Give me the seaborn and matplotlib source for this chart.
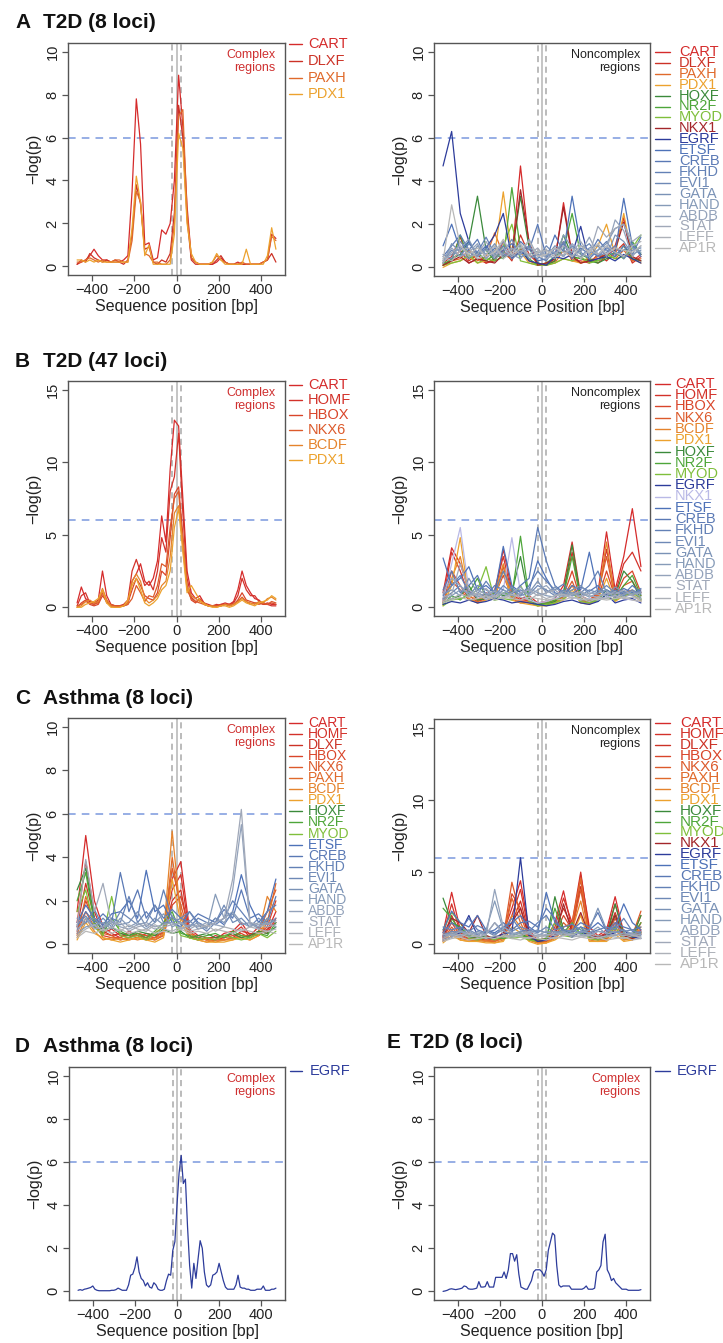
import numpy as np
import pandas as pd
import matplotlib
matplotlib.use("Agg")
import matplotlib.pyplot as plt
from matplotlib.lines import Line2D
import seaborn as sns

W, H = 723, 1343

# ---------------- data (-log(p) values) ----------------
# complex panels on a 20 bp grid, noncomplex panels on a ~41 bp grid,
# D / E on a 10 bp grid; x runs from -470 to 470 in every case

A_cx = {
    'CART': [0.1,0.2,0.3,0.5,0.8,0.5,0.3,0.3,0.2,0.3,0.2,0.3,0.5,3.5,7.8,5.7,1.0,1.1,0.3,0.4,1.7,1.5,2.0,4.0,8.9,6.5,2.8,0.4,0.2,0.1,0.1,0.1,0.1,0.2,0.4,0.2,0.1,0.1,0.2,0.1,0.1,0.1,0.1,0.1,0.2,0.3,1.5,1.3],
    'DLXF': [0.1,0.3,0.2,0.6,0.4,0.3,0.2,0.3,0.2,0.2,0.2,0.1,0.3,1.5,3.8,2.9,0.8,0.9,0.2,0.1,0.3,0.2,0.6,2.5,7.5,6.0,2.2,0.3,0.1,0.1,0.1,0.1,0.1,0.3,0.5,0.2,0.1,0.1,0.1,0.1,0.1,0.1,0.1,0.1,0.2,0.3,0.6,0.2],
    'PAXH': [0.2,0.2,0.3,0.4,0.3,0.2,0.3,0.2,0.2,0.3,0.3,0.2,0.2,1.2,3.5,3.0,0.6,0.5,0.2,0.2,0.1,0.1,0.3,2.0,7.0,7.3,2.5,0.4,0.2,0.1,0.1,0.1,0.2,0.5,0.3,0.2,0.1,0.1,0.1,0.2,0.1,0.1,0.1,0.1,0.2,0.3,1.4,1.2],
    'PDX1': [0.3,0.3,0.2,0.3,0.2,0.3,0.2,0.2,0.2,0.2,0.2,0.2,0.2,1.8,4.2,3.0,0.5,1.0,0.1,0.1,0.1,0.1,0.1,1.5,6.2,5.5,2.0,0.6,0.2,0.1,0.1,0.1,0.2,0.6,0.3,0.1,0.1,0.1,0.1,0.1,0.8,0.1,0.1,0.1,0.1,0.5,1.8,0.8],
}

A_nc = {
    'CART': [0.1,0.3,0.8,0.2,0.4,0.2,0.3,1.2,0.5,4.7,1.0,0.1,0.1,0.3,3.0,0.6,0.2,0.4,0.2,0.5,1.0,2.3,0.3,0.6],
    'DLXF': [0.2,0.5,1.4,0.3,0.6,0.2,0.4,0.8,0.3,1.5,0.6,0.2,0.1,0.4,1.2,0.3,0.3,0.2,0.6,0.3,0.7,1.1,0.2,0.5],
    'PAXH': [0.1,0.3,0.4,0.8,0.3,0.5,1.6,0.6,0.4,0.9,0.3,0.1,0.2,0.2,0.8,0.4,0.2,0.3,0.5,0.6,0.4,0.8,0.3,0.4],
    'PDX1': [0.0,0.2,0.3,0.5,0.2,0.3,0.6,3.5,0.5,0.7,0.2,0.1,0.1,0.2,0.4,0.3,0.2,0.5,1.0,2.0,0.6,2.5,0.4,0.2],
    'HOXF': [0.1,0.4,0.6,1.2,3.3,0.8,0.3,0.5,0.6,3.3,0.9,0.2,0.1,0.3,1.5,0.5,0.4,0.3,0.2,0.4,0.5,1.0,0.4,0.3],
    'NR2F': [0.2,0.3,1.5,0.4,0.7,0.3,0.6,0.4,3.7,0.8,0.4,0.1,0.2,0.5,0.8,2.5,0.6,0.4,0.3,0.5,0.7,0.4,1.2,0.6],
    'MYOD': [0.1,0.2,0.3,0.6,0.2,0.4,0.3,1.0,2.0,0.3,0.2,0.1,0.1,0.2,0.4,0.3,0.5,0.2,0.3,0.6,0.4,0.5,0.9,1.5],
    'NKX1': [0.1,0.3,0.5,0.2,0.4,0.3,0.2,0.6,0.5,3.6,1.2,0.1,0.2,0.4,2.8,0.5,0.2,0.3,0.4,0.6,0.8,2.1,0.5,0.3],
    'EGRF': [4.7,6.3,2.5,1.2,0.5,0.9,1.5,2.5,0.4,0.8,0.3,0.2,0.1,0.5,0.4,0.6,1.9,0.3,0.4,0.5,0.3,0.6,0.4,0.2],
    'ETSF': [1.0,2.0,0.8,1.2,0.6,1.0,0.5,0.8,1.1,0.6,0.9,0.3,0.4,1.5,0.7,3.3,1.0,0.8,0.5,0.9,0.7,3.2,1.0,0.6],
    'CREB': [0.5,1.0,1.5,0.8,1.3,0.4,0.9,0.6,0.5,1.2,0.8,2.0,0.5,0.7,1.1,0.4,0.9,0.6,1.3,0.8,0.5,1.0,0.6,1.4],
    'FKHD': [0.3,0.8,0.5,1.1,0.7,1.4,0.6,1.0,0.4,0.7,1.0,0.5,0.3,0.9,0.5,1.0,0.7,0.4,0.8,1.2,0.6,0.8,1.1,0.5],
    'EVI1': [0.6,0.4,1.2,0.7,0.5,0.9,0.4,0.7,1.3,0.5,0.6,0.4,1.0,0.6,1.2,0.5,0.8,1.1,0.5,0.7,1.0,0.4,0.8,0.9],
    'GATA': [0.2,1.1,0.7,0.4,1.0,0.6,1.1,0.5,0.8,1.0,0.4,0.6,0.5,1.0,0.8,0.6,0.5,0.9,1.0,0.5,1.5,1.2,0.6,0.8],
    'HAND': [0.4,0.6,0.9,1.3,0.5,0.8,0.6,1.2,0.6,0.4,0.9,0.7,0.6,0.4,1.5,0.9,0.6,0.5,0.8,1.1,1.8,2.0,0.9,0.7],
    'ABDB': [0.3,0.9,0.5,0.7,1.1,0.4,0.8,0.6,0.9,0.6,1.3,0.5,0.8,0.7,0.5,1.1,0.7,1.4,0.6,0.8,2.2,1.7,0.5,1.0],
    'STAT': [0.2,0.7,1.0,0.5,0.6,1.2,0.5,0.9,0.5,0.8,0.6,0.9,0.4,0.6,1.0,0.7,1.2,0.6,1.9,1.4,1.8,2.0,1.2,1.5],
    'LEFF': [0.5,0.3,0.8,0.9,0.4,0.6,1.0,0.4,0.7,1.1,0.5,0.7,0.8,0.5,0.6,0.9,0.4,0.8,0.6,1.0,0.7,0.5,1.0,1.2],
    'AP1R': [0.3,2.9,1.0,0.6,0.9,0.5,0.7,1.3,0.6,0.9,1.2,0.5,0.6,0.9,0.7,0.5,1.0,0.7,1.1,0.6,0.9,0.8,0.7,1.0],
}

B_cx = {
    'CART': [0.3,1.4,0.6,0.4,0.3,0.5,2.5,0.8,0.2,0.1,0.1,0.1,0.2,1.8,2.3,3.0,1.8,1.5,2.0,3.2,6.3,4.5,9.5,12.9,12.5,7.5,2.5,1.0,0.6,0.8,0.3,0.2,0.1,0.1,0.2,0.3,0.2,0.4,1.2,2.5,1.5,1.0,0.6,0.5,0.2,0.3,0.2,0.2],
    'HOMF': [0.1,0.8,1.0,0.3,0.2,0.4,1.2,0.5,0.1,0.1,0.1,0.2,0.5,2.5,3.3,2.4,1.5,1.8,1.2,2.5,4.8,3.8,8.0,9.0,12.0,6.5,2.0,0.7,0.4,0.5,0.2,0.1,0.1,0.2,0.1,0.2,0.2,0.3,0.8,2.0,1.2,0.8,0.8,0.4,0.3,0.2,0.1,0.1],
    'HBOX': [0.0,0.3,0.5,0.2,0.1,0.2,0.8,0.4,0.1,0.0,0.1,0.1,0.3,1.2,2.0,1.5,0.8,0.6,0.5,1.0,2.5,2.2,4.8,7.8,8.3,5.0,1.5,0.5,0.3,0.6,0.3,0.1,0.1,0.1,0.2,0.2,0.1,0.2,0.5,1.0,0.5,0.4,0.3,0.3,0.2,0.2,0.3,0.2],
    'NKX6': [0.1,0.2,0.4,0.3,0.2,0.3,1.0,0.3,0.2,0.1,0.1,0.1,0.2,0.6,1.5,1.0,0.4,0.8,0.7,1.5,3.0,2.8,5.5,7.5,8.0,4.2,1.2,0.6,0.4,0.3,0.2,0.1,0.1,0.1,0.1,0.2,0.2,0.2,0.4,0.7,0.4,0.2,0.3,0.2,0.3,0.2,0.4,0.3],
    'BCDF': [0.0,0.1,0.4,0.5,0.3,0.4,1.3,0.5,0.1,0.0,0.0,0.1,0.3,1.8,2.3,1.8,0.6,0.3,0.5,0.8,1.5,1.8,3.5,6.5,7.0,4.5,1.4,0.8,0.6,0.4,0.3,0.1,0.1,0.0,0.1,0.2,0.1,0.2,0.4,0.6,0.4,0.3,0.2,0.4,0.3,0.6,0.7,0.5],
    'PDX1': [0.0,0.0,0.2,0.3,0.4,0.6,1.2,0.3,0.0,0.0,0.0,0.1,0.5,1.5,2.0,1.2,0.3,0.1,0.3,0.6,1.2,1.5,2.5,5.5,6.8,3.8,1.0,1.5,1.0,0.5,0.2,0.1,0.0,0.0,0.1,0.1,0.0,0.1,0.3,0.5,0.3,0.2,0.1,0.3,0.4,0.5,0.8,0.6],
}

B_nc = {
    'CART': [1.0,4.1,3.0,1.2,0.5,1.0,0.8,4.0,1.2,0.6,0.8,0.3,0.4,0.6,1.5,4.5,0.8,0.5,1.0,5.2,1.2,3.5,6.8,2.8],
    'HOMF': [0.5,3.8,2.5,0.8,0.4,0.6,1.2,3.5,0.9,0.5,0.6,0.2,0.3,0.4,1.0,3.8,0.6,0.4,0.8,4.0,0.9,3.0,3.8,2.5],
    'HBOX': [0.3,2.5,1.5,0.6,0.3,0.5,0.8,2.2,0.7,0.4,0.5,0.1,0.2,0.3,0.8,2.5,0.5,0.3,0.6,2.5,0.7,2.0,2.5,1.0],
    'NKX6': [0.4,1.8,1.2,0.5,0.4,0.7,0.6,2.8,0.6,0.3,0.4,0.2,0.2,0.5,0.7,1.8,0.4,0.5,0.9,3.5,0.6,1.5,1.8,0.8],
    'BCDF': [0.2,2.0,3.5,0.8,0.5,0.8,1.0,3.0,0.8,0.4,0.3,0.1,0.2,0.4,0.6,1.5,0.4,0.3,0.7,4.5,0.5,1.0,1.2,0.5],
    'PDX1': [0.1,1.5,4.8,0.6,0.3,0.5,0.7,2.5,0.5,0.3,0.2,0.1,0.1,0.3,0.5,1.2,0.3,0.2,0.5,2.0,0.4,0.8,0.9,0.4],
    'HOXF': [0.3,0.6,0.8,1.5,0.5,0.6,1.0,0.8,1.0,3.5,0.5,0.2,0.2,0.4,1.0,4.3,0.6,0.4,0.5,1.2,0.8,2.5,1.8,0.5],
    'NR2F': [0.2,0.8,0.5,1.0,2.0,0.7,0.5,1.0,0.8,4.9,0.6,0.2,0.3,0.5,0.8,3.5,0.5,0.6,0.4,0.9,0.7,1.5,2.2,0.8],
    'MYOD': [0.1,0.5,0.6,0.8,1.2,2.8,0.5,0.6,0.5,1.5,0.4,0.1,0.2,0.3,0.6,1.0,0.4,0.3,0.5,0.7,0.5,0.8,1.0,0.6],
    'EGRF': [0.2,0.4,0.3,0.5,0.3,0.4,0.6,0.5,0.3,0.4,0.3,0.2,0.1,0.2,0.4,0.5,0.3,0.2,0.4,0.9,0.3,0.5,0.6,0.3],
    'NKX1': [0.5,3.0,5.5,1.2,0.8,0.6,0.9,1.2,4.8,1.0,0.5,0.3,0.4,0.6,0.8,0.7,0.5,0.6,0.5,0.7,0.8,0.6,0.5,0.4],
    'ETSF': [3.4,1.5,2.0,2.8,1.2,1.5,1.0,4.2,1.5,1.0,1.2,3.2,2.0,1.0,0.8,1.5,1.2,3.8,1.0,1.2,0.9,1.3,1.0,1.2],
    'CREB': [1.2,2.5,1.0,1.5,2.2,0.8,1.5,1.2,0.9,1.5,2.0,5.5,3.2,1.5,1.0,0.9,1.4,1.1,1.5,0.8,1.2,0.9,1.5,1.0],
    'FKHD': [0.8,1.5,2.2,1.0,0.9,1.8,1.0,2.5,1.2,0.8,1.5,2.5,1.8,1.2,1.6,0.8,1.0,1.5,2.5,1.0,0.7,1.1,0.8,1.3],
    'EVI1': [0.6,1.0,1.5,0.8,1.5,1.2,0.8,1.5,1.0,1.2,0.9,1.5,1.2,0.8,1.2,1.0,0.8,1.2,1.0,1.5,1.0,0.8,1.2,0.9],
    'GATA': [0.9,1.2,0.8,2.0,1.0,0.7,1.2,0.9,1.4,0.8,1.0,1.8,1.0,1.4,0.9,1.2,1.5,0.9,1.2,0.8,1.4,1.0,0.9,1.1],
    'HAND': [0.5,0.8,1.2,1.0,0.7,1.0,0.6,1.2,0.8,0.9,1.3,1.0,0.8,0.7,1.1,0.8,1.0,0.7,1.0,1.2,0.6,0.9,1.1,0.7],
    'ABDB': [1.0,2.0,1.5,0.8,1.2,0.9,1.1,0.7,1.0,1.4,0.8,1.2,1.5,0.9,0.8,1.0,0.7,1.0,0.9,0.8,1.1,0.7,0.9,1.0],
    'STAT': [0.7,0.9,3.0,1.2,0.8,1.3,0.7,1.0,0.6,1.0,1.2,0.8,1.0,1.2,0.7,0.9,1.1,0.8,0.7,1.0,0.9,1.2,0.8,0.6],
    'LEFF': [0.4,0.6,0.9,0.7,1.0,0.5,0.8,0.6,0.9,0.7,0.5,0.9,0.6,0.8,0.9,0.6,0.8,0.5,0.7,0.6,0.8,0.6,0.7,0.5],
    'AP1R': [0.3,0.5,0.7,0.5,0.6,0.8,0.5,0.7,0.6,0.5,0.7,0.6,0.5,0.6,0.5,0.7,0.6,0.4,0.6,0.5,0.6,0.7,0.5,0.4],
}

C_cx = {
    'CART': [1.5,5.0,2.0,0.8,0.5,0.3,0.6,0.4,0.3,0.5,0.8,3.0,3.8,0.7,0.4,0.3,0.2,0.5,0.6,1.0,0.4,0.8,0.6,1.5],
    'HOMF': [1.0,3.8,1.5,0.5,0.7,0.4,0.3,0.5,0.4,0.3,0.6,2.5,3.2,0.5,0.3,0.2,0.4,0.3,0.5,0.8,0.3,0.6,0.5,1.2],
    'DLXF': [0.8,2.8,1.2,0.6,0.4,0.5,0.4,0.3,0.5,0.4,0.5,2.0,2.5,0.4,0.2,0.3,0.3,0.4,0.3,0.6,0.5,0.4,0.7,1.0],
    'HBOX': [0.6,2.0,1.0,0.4,0.3,0.3,0.5,0.4,0.3,0.2,0.4,1.8,2.2,0.6,0.3,0.2,0.2,0.3,0.4,0.5,0.3,0.5,0.8,2.0],
    'NKX6': [0.5,1.5,0.8,0.5,0.4,0.2,0.3,0.5,0.4,0.3,0.6,3.5,1.8,0.4,0.2,0.3,0.2,0.2,0.3,0.4,0.4,0.6,1.5,2.5],
    'PAXH': [0.4,2.2,1.0,0.3,0.2,0.3,0.2,0.3,0.2,0.3,0.4,4.0,1.5,0.3,0.2,0.1,0.2,0.2,0.3,0.3,0.2,0.4,1.0,2.8],
    'BCDF': [0.3,1.2,0.6,0.2,0.3,0.2,0.3,0.2,0.3,0.2,0.5,5.2,1.2,0.5,0.3,0.2,0.1,0.2,0.2,0.4,0.3,0.5,2.2,1.5],
    'PDX1': [0.2,1.0,0.5,0.3,0.2,0.1,0.2,0.3,0.2,0.1,0.3,3.0,1.0,0.3,0.2,0.1,0.1,0.1,0.2,0.3,0.2,0.4,1.2,1.0],
    'HOXF': [2.5,3.5,1.2,0.6,0.8,0.5,0.4,0.6,0.5,0.4,0.7,0.5,0.6,0.3,0.4,0.5,0.3,0.4,0.5,0.3,0.4,0.6,0.5,0.8],
    'NR2F': [2.0,3.3,1.0,0.5,1.2,0.6,0.4,0.5,0.3,0.6,1.0,1.5,0.5,0.4,0.3,0.4,0.5,0.3,0.6,0.4,0.3,0.5,0.4,1.0],
    'MYOD': [1.5,2.5,0.8,0.4,2.2,0.4,0.3,0.4,0.2,0.5,0.8,1.2,0.4,0.3,0.2,0.3,0.2,0.4,0.3,0.2,0.3,0.5,0.3,0.6],
    'ETSF': [1.0,1.8,1.2,0.9,1.4,1.5,2.0,1.2,3.4,1.5,1.8,1.0,0.8,1.5,1.0,0.8,1.2,0.9,1.5,3.2,1.8,1.0,1.5,3.0],
    'CREB': [0.8,1.5,1.0,1.4,1.0,3.3,1.5,2.5,1.2,1.8,1.2,1.6,1.2,1.0,1.4,1.2,1.0,1.6,1.2,2.5,1.2,1.4,1.0,2.2],
    'FKHD': [1.2,1.0,1.6,0.8,1.2,1.0,2.2,1.0,1.5,1.0,2.5,1.2,1.0,0.8,1.2,1.0,0.9,1.2,2.0,1.5,1.0,0.8,1.5,1.8],
    'EVI1': [0.9,1.3,0.8,1.2,0.8,1.5,1.2,0.9,1.0,1.8,1.0,1.0,1.2,1.5,0.9,0.6,1.0,1.8,1.0,1.2,0.8,1.2,0.9,1.2],
    'GATA': [0.7,1.0,1.2,0.7,1.0,0.9,1.0,1.5,0.8,1.2,0.9,1.3,0.9,1.1,0.7,0.8,1.2,1.0,1.4,0.9,1.0,0.7,1.2,1.0],
    'HAND': [0.5,0.8,0.9,1.0,0.7,1.2,0.8,1.0,0.7,1.0,1.4,0.8,1.0,0.8,1.0,0.7,2.3,1.2,1.5,1.0,0.8,1.0,0.9,1.1],
    'ABDB': [0.6,1.2,0.7,0.8,1.1,0.8,0.7,0.9,1.0,0.8,0.9,1.0,0.7,0.9,0.8,1.0,0.9,0.8,2.5,5.5,0.9,0.8,1.0,0.8],
    'STAT': [0.8,3.9,1.5,2.8,0.9,1.0,0.6,0.8,0.9,0.7,0.8,0.9,1.0,0.7,0.9,0.8,1.0,1.2,3.0,6.2,1.0,0.9,0.8,0.9],
    'LEFF': [0.4,0.7,0.9,0.6,0.8,0.6,0.9,0.7,0.6,0.9,0.7,0.6,0.8,0.6,0.7,0.9,0.6,0.8,0.7,0.6,0.8,0.7,0.6,0.7],
    'AP1R': [0.3,0.6,0.5,0.7,0.5,0.7,0.5,0.6,0.7,0.5,0.6,0.5,0.7,0.5,0.6,0.5,0.7,0.6,0.5,0.7,0.6,0.5,0.6,0.5],
}

C_nc = {
    'CART': [0.8,3.6,1.0,0.6,0.4,0.5,0.3,0.8,2.5,4.4,1.0,0.3,0.4,1.5,3.7,1.0,4.8,1.2,0.6,1.0,3.3,0.8,0.5,1.0],
    'HOMF': [0.6,2.8,0.8,0.5,0.6,0.4,0.3,0.6,2.0,3.8,0.8,0.2,0.3,1.2,3.2,1.5,5.0,0.9,0.5,0.8,2.8,0.7,0.4,0.9],
    'DLXF': [0.5,2.0,0.7,0.4,0.3,0.5,0.4,0.5,1.5,3.0,0.7,0.2,0.3,0.9,2.5,1.2,4.0,0.7,0.4,0.6,2.2,0.6,0.3,0.8],
    'HBOX': [0.4,1.5,0.6,0.3,0.4,0.3,0.3,0.4,3.5,2.5,0.5,0.1,0.2,0.7,2.0,1.0,4.5,0.6,0.3,0.5,1.8,0.5,0.3,1.5],
    'NKX6': [0.3,1.2,0.5,0.4,0.3,0.2,0.2,0.5,4.3,2.0,0.4,0.2,0.2,0.6,1.5,0.9,3.8,0.5,0.4,0.4,1.5,0.4,0.6,2.3],
    'PAXH': [0.2,1.0,0.4,0.3,0.2,0.3,0.2,0.4,3.2,1.5,0.3,0.1,0.1,0.5,1.2,1.5,4.6,0.4,0.3,0.3,1.2,0.3,0.5,2.0],
    'BCDF': [0.2,0.8,0.3,0.2,0.3,0.2,0.1,0.3,2.0,1.2,0.3,0.1,0.1,0.4,1.0,1.0,3.0,0.3,0.2,0.3,1.0,0.3,0.4,1.2],
    'PDX1': [0.1,0.6,0.3,0.2,0.2,0.1,0.1,0.2,1.2,0.8,0.2,0.0,0.1,0.3,0.7,0.6,2.0,0.2,0.2,0.2,0.7,0.2,0.3,0.8],
    'HOXF': [3.2,1.5,1.2,0.5,0.4,0.6,0.4,0.5,0.6,0.8,0.4,0.2,0.3,3.3,1.0,0.7,0.8,0.5,0.6,0.5,2.8,0.6,0.5,2.0],
    'NR2F': [2.5,1.8,0.9,0.6,0.5,0.4,0.5,0.4,0.5,0.6,0.5,0.3,0.4,2.5,0.8,1.5,0.7,0.6,0.4,0.6,2.0,0.8,0.6,1.5],
    'MYOD': [1.0,2.2,1.5,0.4,0.3,0.5,0.3,0.6,0.4,0.5,0.3,0.2,0.3,1.5,0.6,0.5,1.2,0.4,0.3,0.5,1.2,0.4,0.5,0.8],
    'NKX1': [0.5,1.8,1.5,0.8,2.0,0.6,0.4,0.8,1.5,2.5,0.6,0.2,0.3,0.6,2.8,0.8,2.2,0.6,0.5,0.7,2.0,0.6,0.4,0.7],
    'EGRF': [0.3,0.5,0.8,2.0,0.6,0.4,0.5,0.7,0.8,6.0,0.6,0.2,0.3,0.6,0.8,0.5,0.9,0.6,0.4,0.6,0.8,1.0,0.5,0.4],
    'ETSF': [1.0,2.3,1.5,1.2,2.0,1.0,0.8,1.2,1.5,2.0,1.2,0.8,3.6,1.5,1.0,0.8,1.2,1.0,1.5,1.0,1.2,2.8,1.5,1.0],
    'CREB': [0.8,1.5,1.0,1.8,1.0,0.8,1.0,1.5,1.0,1.5,1.6,1.2,2.5,1.8,0.8,1.0,1.5,1.2,2.2,0.9,1.5,1.2,1.0,1.2],
    'FKHD': [1.2,1.0,1.2,0.9,1.3,1.0,0.7,1.0,1.8,1.0,0.9,1.5,2.0,1.0,1.2,1.4,1.0,0.8,1.0,1.2,1.0,1.8,0.9,0.8],
    'EVI1': [0.6,0.9,0.8,1.0,0.7,0.9,0.6,1.2,0.9,1.2,1.0,0.8,1.2,0.8,1.0,0.9,1.2,0.7,0.9,0.8,1.3,0.9,1.0,0.7],
    'GATA': [0.8,0.7,1.0,0.6,0.9,0.7,1.5,0.9,0.7,0.9,0.8,1.0,0.8,0.9,0.7,1.0,0.8,1.0,2.5,1.0,0.8,1.0,0.7,0.9],
    'HAND': [0.5,0.8,0.6,0.9,0.6,1.0,3.0,1.0,0.6,0.8,0.7,0.6,0.9,0.7,0.9,0.6,0.9,0.8,1.2,0.7,0.9,0.7,0.8,0.6],
    'ABDB': [0.7,0.6,0.9,0.7,0.8,0.6,3.8,1.2,0.8,0.7,0.9,0.7,0.6,0.8,0.6,0.8,0.7,0.6,0.9,0.8,0.6,0.8,0.6,0.7],
    'STAT': [0.4,0.7,0.5,0.8,0.5,0.7,1.5,0.7,0.5,0.6,0.8,0.5,0.7,0.6,0.8,0.5,0.6,0.7,0.6,0.5,0.7,0.6,0.7,0.5],
    'LEFF': [0.3,0.5,0.7,0.5,0.6,0.4,0.6,0.5,0.6,0.5,0.4,0.6,0.5,0.4,0.6,0.7,0.5,0.6,0.4,0.6,0.5,0.4,0.6,0.5],
    'AP1R': [0.2,0.4,0.5,0.3,0.4,0.5,0.4,0.6,0.4,0.3,0.5,0.4,0.3,0.5,0.4,0.3,0.5,0.4,0.5,0.3,0.4,0.5,0.3,0.4],
}

D_egrf = [0.05,0.08,0.05,0.10,0.12,0.15,0.18,0.25,0.10,0.05,
          0.03,0.03,0.03,0.03,0.03,0.03,0.05,0.05,0.08,0.15,
          0.10,0.05,0.05,0.05,0.30,0.75,0.80,1.10,1.60,0.90,
          0.60,0.50,0.25,0.40,0.20,0.15,0.40,0.30,0.10,0.05,
          0.05,0.10,0.50,0.80,0.75,1.90,2.30,4.00,5.50,6.30,
          5.00,5.20,3.00,1.20,0.15,1.30,0.60,1.50,2.35,2.00,
          0.90,0.30,0.20,0.30,0.75,0.80,0.90,1.30,0.90,0.50,
          0.20,0.10,0.10,0.10,0.10,0.30,0.75,0.20,0.15,0.15,
          0.10,0.10,0.05,0.05,0.05,0.10,0.10,0.10,0.25,0.05,
          0.05,0.05,0.10,0.10,0.15]

E_egrf = [0.00,0.02,0.05,0.10,0.12,0.10,0.08,0.10,0.12,0.15,
          0.25,0.22,0.12,0.10,0.10,0.12,0.15,0.45,0.20,0.20,
          0.22,0.45,0.20,0.20,0.20,0.65,0.65,0.65,0.65,0.90,
          0.60,1.00,1.75,1.75,1.40,1.70,0.80,0.20,0.15,0.10,
          0.10,0.30,0.50,0.90,1.00,1.00,1.00,0.90,0.70,1.00,
          1.90,2.30,2.70,2.60,1.20,0.30,0.20,0.25,0.25,0.25,
          0.25,0.10,0.10,0.10,0.10,0.10,0.10,0.15,0.25,0.10,
          0.10,0.10,0.15,0.90,1.00,1.20,2.30,2.65,1.00,0.80,
          0.50,0.60,0.40,0.30,0.20,0.10,0.10,0.10,0.05,0.05,
          0.05,0.05,0.05,0.05,0.08]

tf_colors = {
    'CART': '#d52b2b', 'HOMF': '#d3322a', 'DLXF': '#cc3226', 'HBOX': '#d9452a',
    'NKX6': '#dc5a2b', 'PAXH': '#e06a2b', 'BCDF': '#e5832c', 'PDX1': '#eca22e',
    'HOXF': '#3b8a3b', 'NR2F': '#4ea63a', 'MYOD': '#7fbf3b', 'NKX1': '#a3262a',
    'EGRF': '#2d3c9b', 'ETSF': '#4e72b8', 'CREB': '#5a79b5', 'FKHD': '#6381b6',
    'EVI1': '#6e89b6', 'GATA': '#7a92b6', 'HAND': '#869bb8', 'ABDB': '#94a3bb',
    'STAT': '#a0a8b8', 'LEFF': '#adb1b8', 'AP1R': '#b8b8b8',
}

# ---------------- style ----------------
sns.set_theme(style='white')
plt.rcParams['font.family'] = ['Liberation Sans', 'DejaVu Sans']
plt.rcParams['axes.unicode_minus'] = True

fig = plt.figure(figsize=(W / 100, H / 100), dpi=100)
fig.patch.set_facecolor('white')


def fx(px):
    return px / W


def fy(py):
    return 1 - py / H


def add_ax(l, t, r, b):
    return fig.add_axes([fx(l), fy(b), (r - l) / W, (b - t) / H])


def draw_panel(ax, series, ymax, yticks, note, note_col, xlabel, pal):
    frames = []
    for name, vals in series.items():
        frames.append(pd.DataFrame({'pos': np.linspace(-470, 470, len(vals)),
                                    'p': vals, 'tf': name}))
    df = pd.concat(frames, ignore_index=True)
    sns.lineplot(data=df, x='pos', y='p', hue='tf', hue_order=list(series),
                 palette=pal, estimator=None, sort=False, legend=False,
                 linewidth=0.9, ax=ax)
    ax.axhline(6, color='#7b98de', lw=1.1, ls=(0, (5, 4)), zorder=0.5)
    ax.axvline(0, color='#b5b5b5', lw=1.1, zorder=0.5)
    for xv in (-20, 20):
        ax.axvline(xv, color='#a8a8a8', lw=1.1, ls=(0, (4, 3)), zorder=0.5)
    ext = ymax * 0.04
    ax.set_ylim(-ext, ymax + ext)
    ax.set_xlim(-513, 513)
    ax.set_yticks(yticks)
    ax.set_xticks([-400, -200, 0, 200, 400])
    ax.set_xlabel(xlabel, fontsize=11.5, labelpad=1, color='#222222')
    ax.set_ylabel('\u2212log(p)', fontsize=11.5, labelpad=3, color='#222222')
    ax.tick_params(axis='both', which='both', direction='out', length=4,
                   width=0.9, color='#555555', labelsize=10.5,
                   labelcolor='#222222', pad=2, bottom=True, left=True)
    for lab in ax.get_yticklabels():
        lab.set_rotation(90)
        lab.set_va('center')
    for sp in ax.spines.values():
        sp.set_color('#555555')
        sp.set_linewidth(1.0)
    ax.text(0.955, 0.975, note, transform=ax.transAxes, ha='right', va='top',
            fontsize=9, color=note_col, linespacing=1.15)


def legend(names, pal, lx0, lx1, tx, y0, dy, fs):
    for i, n in enumerate(names):
        y = y0 + i * dy
        fig.add_artist(Line2D([fx(lx0), fx(lx1)], [fy(y), fy(y)],
                              color=pal[n], lw=1.0))
        fig.text(fx(tx), fy(y), n, color=pal[n], fontsize=fs,
                 ha='left', va='center')


def title(letter, text, xl, xt, y):
    fig.text(fx(xl), fy(y), letter, fontsize=15, fontweight='bold',
             ha='left', va='center', color='#111111')
    fig.text(fx(xt), fy(y), text, fontsize=15, fontweight='bold',
             ha='left', va='center', color='#111111')


RED = '#cf3030'

# A
title('A', 'T2D (8 loci)', 15, 43, 22)
ax = add_ax(68, 43, 285, 275)
draw_panel(ax, A_cx, 10, [0, 2, 4, 6, 8, 10], 'Complex\nregions', RED,
           'Sequence position [bp]', tf_colors)
legend(list(A_cx), tf_colors, 289, 302, 308, 44, 16.8, 10.5)

ax = add_ax(434, 43, 650, 276)
draw_panel(ax, A_nc, 10, [0, 2, 4, 6, 8, 10], 'Noncomplex\nregions', '#222222',
           'Sequence Position [bp]', tf_colors)
legend(list(A_nc), tf_colors, 655, 670, 679, 52, 10.9, 10.5)

# B
title('B', 'T2D (47 loci)', 15, 43, 362)
ax = add_ax(68, 381, 285, 616)
draw_panel(ax, B_cx, 15, [0, 5, 10, 15], 'Complex\nregions', RED,
           'Sequence position [bp]', tf_colors)
legend(list(B_cx), tf_colors, 289, 302, 308, 385, 15, 10.5)

pal_b = dict(tf_colors)
pal_b['NKX1'] = '#b9b9e6'
ax = add_ax(434, 381, 650, 616)
draw_panel(ax, B_nc, 15, [0, 5, 10, 15], 'Noncomplex\nregions', '#222222',
           'Sequence position [bp]', pal_b)
legend(list(B_nc), pal_b, 655, 670, 675, 384, 11.25, 10.5)

# C
title('C', 'Asthma (8 loci)', 15, 43, 699)
ax = add_ax(68, 718, 285, 953)
draw_panel(ax, C_cx, 10, [0, 2, 4, 6, 8, 10], 'Complex\nregions', RED,
           'Sequence position [bp]', tf_colors)
legend(list(C_cx), tf_colors, 289, 302, 308, 723, 11.05, 10)

ax = add_ax(434, 719, 650, 953)
draw_panel(ax, C_nc, 15, [0, 5, 10, 15], 'Noncomplex\nregions', '#222222',
           'Sequence Position [bp]', tf_colors)
legend(list(C_nc), tf_colors, 655, 670, 680, 723, 10.95, 11)

# D
title('D', 'Asthma (8 loci)', 15, 43, 1046)
ax = add_ax(69, 1067, 285, 1300)
draw_panel(ax, {'EGRF': D_egrf}, 10, [0, 2, 4, 6, 8, 10], 'Complex\nregions',
           RED, 'Sequence position [bp]', tf_colors)
legend(['EGRF'], tf_colors, 290, 302, 310, 1071, 0, 10.5)

# E
title('E', 'T2D (8 loci)', 387, 410, 1043)
ax = add_ax(434, 1067, 650, 1300)
draw_panel(ax, {'EGRF': E_egrf}, 10, [0, 2, 4, 6, 8, 10], 'Complex\nregions',
           RED, 'Sequence position [bp]', tf_colors)
legend(['EGRF'], tf_colors, 655, 670, 677, 1071, 0, 10.5)

plt.savefig('out.png', dpi=100, facecolor='white')
